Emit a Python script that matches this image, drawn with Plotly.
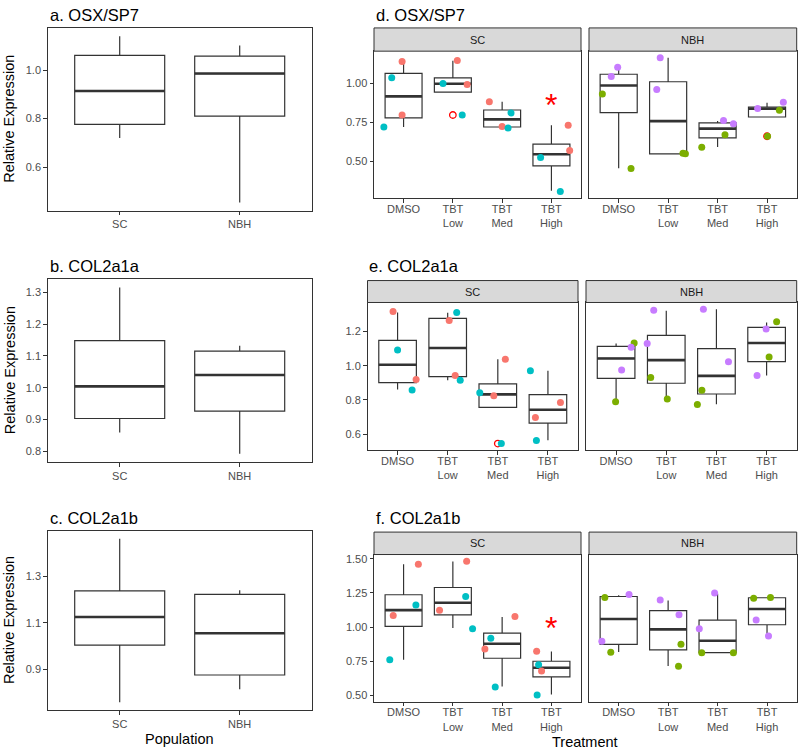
import plotly.graph_objects as go

# ---------------- data ----------------
populations = ["SC", "NBH"]
treatments = ["DMSO", "TBT<br>Low", "TBT<br>Med", "TBT<br>High"]
family_colors = {"A": "#F8766D", "B": "#00BFC4", "C": "#7CAE00", "D": "#C77CFF"}

# Panels a-c: population box statistics (SC, NBH)
osx_pop_q1 = [0.776, 0.810]
osx_pop_med = [0.914, 0.986]
osx_pop_q3 = [1.061, 1.058]
osx_pop_lo = [0.720, 0.454]
osx_pop_hi = [1.140, 1.102]

col2a1a_pop_q1 = [0.903, 0.926]
col2a1a_pop_med = [1.004, 1.040]
col2a1a_pop_q3 = [1.148, 1.115]
col2a1a_pop_lo = [0.859, 0.792]
col2a1a_pop_hi = [1.315, 1.132]

col2a1b_pop_q1 = [1.004, 0.876]
col2a1b_pop_med = [1.125, 1.055]
col2a1b_pop_q3 = [1.237, 1.222]
col2a1b_pop_lo = [0.759, 0.815]
col2a1b_pop_hi = [1.461, 1.240]

# Panels d-f: treatment box statistics (DMSO, Low, Med, High)
osx_sc_q1 = [0.777, 0.943, 0.719, 0.470]
osx_sc_med = [0.915, 0.996, 0.768, 0.545]
osx_sc_q3 = [1.062, 1.034, 0.828, 0.609]
osx_sc_lo = [0.719, 0.943, 0.713, 0.311]
osx_sc_hi = [1.123, 1.143, 0.881, 0.730]

osx_nbh_q1 = [0.811, 0.547, 0.649, 0.783]
osx_nbh_med = [0.985, 0.757, 0.709, 0.836]
osx_nbh_q3 = [1.057, 1.009, 0.745, 0.847]
osx_nbh_lo = [0.455, 0.547, 0.591, 0.783]
osx_nbh_hi = [1.094, 1.162, 0.757, 0.874]

col2a1a_sc_q1 = [0.902, 0.937, 0.757, 0.665]
col2a1a_sc_med = [1.006, 1.104, 0.833, 0.743]
col2a1a_sc_q3 = [1.149, 1.278, 0.894, 0.831]
col2a1a_sc_lo = [0.861, 0.916, 0.757, 0.565]
col2a1a_sc_hi = [1.312, 1.310, 1.039, 0.971]

col2a1a_nbh_q1 = [0.927, 0.898, 0.835, 1.024]
col2a1a_nbh_med = [1.043, 1.033, 0.941, 1.133]
col2a1a_nbh_q3 = [1.114, 1.178, 1.100, 1.225]
col2a1a_nbh_lo = [0.790, 0.806, 0.775, 0.943]
col2a1a_nbh_hi = [1.131, 1.322, 1.331, 1.253]

col2a1b_sc_q1 = [1.005, 1.090, 0.771, 0.634]
col2a1b_sc_med = [1.124, 1.178, 0.878, 0.702]
col2a1b_sc_q3 = [1.237, 1.290, 0.956, 0.749]
col2a1b_sc_lo = [0.761, 0.993, 0.563, 0.505]
col2a1b_sc_hi = [1.461, 1.480, 1.073, 0.820]

col2a1b_nbh_q1 = [0.873, 0.832, 0.812, 1.017]
col2a1b_nbh_med = [1.059, 0.983, 0.900, 1.132]
col2a1b_nbh_q3 = [1.224, 1.120, 1.051, 1.215]
col2a1b_nbh_lo = [0.817, 0.715, 0.812, 0.937]
col2a1b_nbh_hi = [1.234, 1.195, 1.244, 1.215]

# individual samples (treatment index, value, family, horizontal jitter)
point_treatment = [0, 0, 0, 0, 1, 1, 1, 1, 2, 2, 2, 2, 3, 3, 3, 3]

osx_sc_val = [1.138, 1.034, 0.796, 0.719, 1.145, 0.998, 0.991, 0.796,
              0.881, 0.809, 0.723, 0.713, 0.730, 0.568, 0.523, 0.306]
osx_sc_fam = ["A", "B", "A", "B", "A", "B", "A", "B", "A", "B", "A", "B", "A", "A", "B", "B"]
osx_sc_jit = [-0.03, -0.24, -0.03, -0.40, 0.09, -0.20, 0.29, 0.19,
              -0.26, 0.18, 0.0, 0.12, 0.34, 0.37, -0.22, 0.18]

osx_nbh_val = [1.102, 1.043, 0.930, 0.453, 1.162, 0.960, 0.551, 0.547,
               0.760, 0.740, 0.670, 0.589, 0.877, 0.838, 0.826, 0.660]
osx_nbh_fam = ["D", "D", "C", "C", "D", "D", "C", "C", "D", "D", "C", "C", "D", "D", "C", "C"]
osx_nbh_jit = [-0.02, -0.15, -0.33, 0.25, -0.16, -0.23, 0.30, 0.35,
               0.12, 0.32, 0.15, -0.32, 0.33, -0.19, 0.25, 0.01]

col2a1a_sc_val = [1.318, 1.092, 0.920, 0.859, 1.312, 1.265, 0.943, 0.916,
                  1.039, 0.843, 0.825, 0.545, 0.971, 0.786, 0.698, 0.563]
col2a1a_sc_fam = ["A", "B", "A", "B", "B", "A", "A", "B", "A", "B", "A", "B", "B", "A", "A", "B"]
col2a1a_sc_jit = [-0.09, 0.0, 0.37, 0.29, 0.18, 0.03, 0.15, 0.25,
                  0.15, -0.36, -0.08, 0.07, -0.35, 0.25, -0.25, -0.23]

col2a1a_nbh_val = [1.133, 1.108, 0.975, 0.790, 1.325, 1.131, 0.931, 0.806,
                   1.331, 1.024, 0.857, 0.773, 1.257, 1.216, 1.051, 0.943]
col2a1a_nbh_fam = ["C", "D", "D", "C", "D", "D", "C", "C", "D", "D", "C", "C", "C", "D", "C", "D"]
col2a1a_nbh_jit = [0.36, 0.30, 0.11, -0.01, -0.25, -0.38, -0.31, 0.02,
                   -0.26, 0.24, -0.29, -0.38, 0.20, -0.01, 0.05, -0.19]

col2a1b_sc_val = [1.461, 1.161, 1.085, 0.761, 1.483, 1.224, 1.124, 0.988,
                  1.078, 0.917, 0.839, 0.561, 0.822, 0.724, 0.678, 0.502]
col2a1b_sc_fam = ["A", "B", "A", "B", "A", "B", "A", "B", "A", "B", "A", "B", "A", "B", "A", "B"]
col2a1b_sc_jit = [0.30, 0.25, -0.21, -0.28, 0.28, 0.26, -0.27, 0.40,
                  0.26, -0.23, -0.35, -0.14, -0.30, -0.26, -0.20, -0.29]

col2a1b_nbh_val = [1.239, 1.217, 0.895, 0.815, 1.198, 1.090, 0.873, 0.712,
                   1.249, 0.988, 0.812, 0.812, 1.212, 1.217, 1.051, 0.934]
col2a1b_nbh_fam = ["D", "C", "D", "C", "D", "D", "C", "C", "D", "D", "C", "C", "C", "C", "D", "D"]
col2a1b_nbh_jit = [0.21, -0.28, -0.34, -0.16, -0.16, 0.22, 0.26, 0.21,
                   -0.06, -0.37, -0.32, 0.32, -0.27, 0.07, -0.22, 0.03]

# boxplot outliers
osx_sc_out_trt, osx_sc_out_val = [1], [0.796]
osx_nbh_out_trt, osx_nbh_out_val = [3], [0.660]
col2a1a_sc_out_trt, col2a1a_sc_out_val = [2], [0.545]
col2a1a_nbh_out_trt, col2a1a_nbh_out_val = [], []
col2a1b_sc_out_trt, col2a1b_sc_out_val = [], []
col2a1b_nbh_out_trt, col2a1b_nbh_out_val = [], []

# significance marks (treatment index, label height)
osx_sig_trt, osx_sig_y = 3, 0.881
col2a1b_sig_trt, col2a1b_sig_y = 3, 1.017

# ---------------- styling / layout ----------------
W, H = 800, 750
FONT = "Liberation Sans, Arial, Helvetica, sans-serif"
DARK = "#333333"
TICKC = "#4D4D4D"

fig = go.Figure()


def ax_ids(i):
    return ("x" if i == 1 else f"x{i}", "y" if i == 1 else f"y{i}")


def add_box(i, pos, q1, med, q3, lo, hi):
    xa, ya = ax_ids(i)
    fig.add_trace(go.Box(x=pos, q1=q1, median=med, q3=q3, lowerfence=lo, upperfence=hi,
                         orientation="v", width=0.75, whiskerwidth=0, fillcolor="white",
                         line=dict(color=DARK, width=1.2), boxpoints=False,
                         hoverinfo="skip", showlegend=False, xaxis=xa, yaxis=ya))
    mx, my = [], []
    for p, m in zip(pos, med):
        mx += [p - 0.375, p + 0.375, None]
        my += [m, m, None]
    fig.add_trace(go.Scatter(x=mx, y=my, mode="lines", line=dict(color=DARK, width=2.6),
                             hoverinfo="skip", showlegend=False, xaxis=xa, yaxis=ya))


def add_points(i, vals, fams, jit, out_trt, out_val):
    xa, ya = ax_ids(i)
    if out_trt:
        fig.add_trace(go.Scatter(x=[t + 1 for t in out_trt], y=out_val, mode="markers",
                                 marker=dict(symbol="circle-open", size=6.5, color="#FF0000",
                                             line=dict(width=1.3, color="#FF0000")),
                                 hoverinfo="skip", showlegend=False, xaxis=xa, yaxis=ya))
    xs = [t + 1 + j for t, j in zip(point_treatment, jit)]
    fig.add_trace(go.Scatter(x=xs, y=vals, mode="markers",
                             marker=dict(size=7, color=[family_colors[f] for f in fams],
                                         line=dict(width=0)),
                             hoverinfo="skip", showlegend=False, xaxis=xa, yaxis=ya))


def expanded(values):
    lo, hi = min(values), max(values)
    r = hi - lo
    return [lo - 0.05 * r, hi + 0.05 * r]


# panel pixel boxes: (x0, x1, y0, y1)
geom = {
    1: (47.7, 311.7, 26, 209.3),
    2: (47.7, 311.7, 278, 461.3),
    3: (47.7, 311.7, 530, 710.3),
    4: (374, 581, 49.3, 196.7),
    5: (589, 796.7, 49.3, 196.7),
    6: (367.5, 578, 301.3, 449.5),
    7: (586, 796.7, 301.3, 449.5),
    8: (374, 581, 554, 701.5),
    9: (589, 796.7, 554, 701.5),
}

# ---- left panels ----
pop_pos = [i + 1 for i in range(len(populations))]
add_box(1, pop_pos, osx_pop_q1, osx_pop_med, osx_pop_q3, osx_pop_lo, osx_pop_hi)
add_box(2, pop_pos, col2a1a_pop_q1, col2a1a_pop_med, col2a1a_pop_q3, col2a1a_pop_lo, col2a1a_pop_hi)
add_box(3, pop_pos, col2a1b_pop_q1, col2a1b_pop_med, col2a1b_pop_q3, col2a1b_pop_lo, col2a1b_pop_hi)

# ---- right facets ----
trt_pos = [i + 1 for i in range(len(treatments))]
add_box(4, trt_pos, osx_sc_q1, osx_sc_med, osx_sc_q3, osx_sc_lo, osx_sc_hi)
add_points(4, osx_sc_val, osx_sc_fam, osx_sc_jit, osx_sc_out_trt, osx_sc_out_val)
add_box(5, trt_pos, osx_nbh_q1, osx_nbh_med, osx_nbh_q3, osx_nbh_lo, osx_nbh_hi)
add_points(5, osx_nbh_val, osx_nbh_fam, osx_nbh_jit, osx_nbh_out_trt, osx_nbh_out_val)

add_box(6, trt_pos, col2a1a_sc_q1, col2a1a_sc_med, col2a1a_sc_q3, col2a1a_sc_lo, col2a1a_sc_hi)
add_points(6, col2a1a_sc_val, col2a1a_sc_fam, col2a1a_sc_jit, col2a1a_sc_out_trt, col2a1a_sc_out_val)
add_box(7, trt_pos, col2a1a_nbh_q1, col2a1a_nbh_med, col2a1a_nbh_q3, col2a1a_nbh_lo, col2a1a_nbh_hi)
add_points(7, col2a1a_nbh_val, col2a1a_nbh_fam, col2a1a_nbh_jit, col2a1a_nbh_out_trt, col2a1a_nbh_out_val)

add_box(8, trt_pos, col2a1b_sc_q1, col2a1b_sc_med, col2a1b_sc_q3, col2a1b_sc_lo, col2a1b_sc_hi)
add_points(8, col2a1b_sc_val, col2a1b_sc_fam, col2a1b_sc_jit, col2a1b_sc_out_trt, col2a1b_sc_out_val)
add_box(9, trt_pos, col2a1b_nbh_q1, col2a1b_nbh_med, col2a1b_nbh_q3, col2a1b_nbh_lo, col2a1b_nbh_hi)
add_points(9, col2a1b_nbh_val, col2a1b_nbh_fam, col2a1b_nbh_jit, col2a1b_nbh_out_trt, col2a1b_nbh_out_val)

# y ranges from the data (ggplot-like 5% expansion)
yr = {
    1: expanded(osx_pop_lo + osx_pop_hi),
    2: expanded(col2a1a_pop_lo + col2a1a_pop_hi),
    3: expanded(col2a1b_pop_lo + col2a1b_pop_hi),
}
yr[4] = yr[5] = expanded(osx_sc_val + osx_nbh_val + osx_sc_lo + osx_sc_hi + osx_nbh_lo + osx_nbh_hi)
yr[6] = yr[7] = expanded(col2a1a_sc_val + col2a1a_nbh_val + col2a1a_sc_lo + col2a1a_sc_hi
                         + col2a1a_nbh_lo + col2a1a_nbh_hi)
yr[8] = yr[9] = expanded(col2a1b_sc_val + col2a1b_nbh_val + col2a1b_sc_lo + col2a1b_sc_hi
                         + col2a1b_nbh_lo + col2a1b_nbh_hi)

ytick = {
    1: dict(tick0=0.6, dtick=0.2, tickformat=".1f"),
    2: dict(tick0=0.8, dtick=0.1, tickformat=".1f"),
    3: dict(tick0=0.9, dtick=0.2, tickformat=".1f"),
    4: dict(tick0=0.5, dtick=0.25, tickformat=".2f"),
    6: dict(tick0=0.6, dtick=0.2, tickformat=".1f"),
    8: dict(tick0=0.5, dtick=0.25, tickformat=".2f"),
}

common = dict(showline=True, mirror=True, linecolor=DARK, linewidth=1, showgrid=False,
              zeroline=False, ticks="outside", ticklen=3.5, tickwidth=1, tickcolor=DARK,
              tickfont=dict(family=FONT, size=11, color=TICKC))

layout = {}
for i, (x0, x1, y0, y1) in geom.items():
    xk = "xaxis" if i == 1 else f"xaxis{i}"
    yk = "yaxis" if i == 1 else f"yaxis{i}"
    xa, ya = ax_ids(i)
    if i <= 3:
        xcfg = dict(range=[0.4, len(populations) + 0.6], tickmode="array",
                    tickvals=pop_pos, ticktext=populations)
    else:
        xcfg = dict(range=[0.4, len(treatments) + 0.6], tickmode="array",
                    tickvals=trt_pos, ticktext=treatments, ticklabelstandoff=-3)
    layout[xk] = dict(domain=[x0 / W, x1 / W], anchor=ya, **xcfg, **common)
    ycfg = dict(domain=[1 - y1 / H, 1 - y0 / H], anchor=xa, range=yr[i], **common)
    if i in ytick:
        ycfg.update(tickmode="linear", **ytick[i])
    else:
        ycfg.update(showticklabels=False, ticks="")
    layout[yk] = ycfg

fig.update_layout(**layout)

shapes = []
annotations = []

# facet strips
strip_rows = [(4, 5, 26, 49.3), (6, 7, 279.3, 301.3), (8, 9, 531.5, 554)]
for a_sc, a_nbh, s0, s1 in strip_rows:
    for idx, label in zip((a_sc, a_nbh), populations):
        x0, x1, _, _ = geom[idx]
        shapes.append(dict(type="rect", xref="paper", yref="paper",
                           x0=x0 / W, x1=x1 / W, y0=1 - s1 / H, y1=1 - s0 / H,
                           fillcolor="#D9D9D9", line=dict(color=DARK, width=1), layer="above"))
        annotations.append(dict(xref="paper", yref="paper", x=(x0 + x1) / 2 / W,
                                y=1 - (s0 + s1) / 2 / H, text=label, showarrow=False,
                                font=dict(family=FONT, size=11, color="#1A1A1A"),
                                xanchor="center", yanchor="middle"))

# panel titles
titles = [("a. OSX/SP7", 47.7, 13.5), ("b. COL2a1a", 47.7, 264.5), ("c. COL2a1b", 47.7, 517),
          ("d. OSX/SP7", 373.5, 13.5), ("e. COL2a1a", 367.3, 264.5), ("f. COL2a1b", 373.5, 517)]
for txt, px, py in titles:
    annotations.append(dict(xref="paper", yref="paper", x=px / W, y=1 - py / H, text=txt,
                            showarrow=False, xanchor="left", yanchor="middle",
                            font=dict(family=FONT, size=16.5, color="black")))

# axis titles
for i in (1, 2, 3):
    _, _, y0, y1 = geom[i]
    annotations.append(dict(xref="paper", yref="paper", x=9.5 / W, y=1 - (y0 + y1) / 2 / H,
                            text="Relative Expression", textangle=-90, showarrow=False,
                            xanchor="center", yanchor="middle",
                            font=dict(family=FONT, size=14.5, color="black")))
annotations.append(dict(xref="paper", yref="paper", x=(47.7 + 311.7) / 2 / W, y=1 - 739 / H,
                        text="Population", showarrow=False, xanchor="center", yanchor="middle",
                        font=dict(family=FONT, size=14.5, color="black")))
annotations.append(dict(xref="paper", yref="paper", x=(374 + 796.7) / 2 / W, y=1 - 742 / H,
                        text="Treatment", showarrow=False, xanchor="center", yanchor="middle",
                        font=dict(family=FONT, size=14.5, color="black")))

# significance asterisks
for axi, t, yv in ((4, osx_sig_trt, osx_sig_y), (8, col2a1b_sig_trt, col2a1b_sig_y)):
    xa, ya = ax_ids(axi)
    annotations.append(dict(xref=xa, yref=ya, x=t + 1, y=yv, text="*", showarrow=False,
                            xanchor="center", yanchor="middle", yshift=-3,
                            font=dict(family=FONT, size=32, color="#FF0000")))

fig.update_layout(width=W, height=H, margin=dict(l=0, r=0, t=0, b=0),
                  paper_bgcolor="white", plot_bgcolor="white", showlegend=False,
                  shapes=shapes, annotations=annotations, boxmode="overlay")

fig.write_html("out.html", config={"displayModeBar": False},
               post_script="document.body.style.margin='0';document.body.style.padding='0';")
